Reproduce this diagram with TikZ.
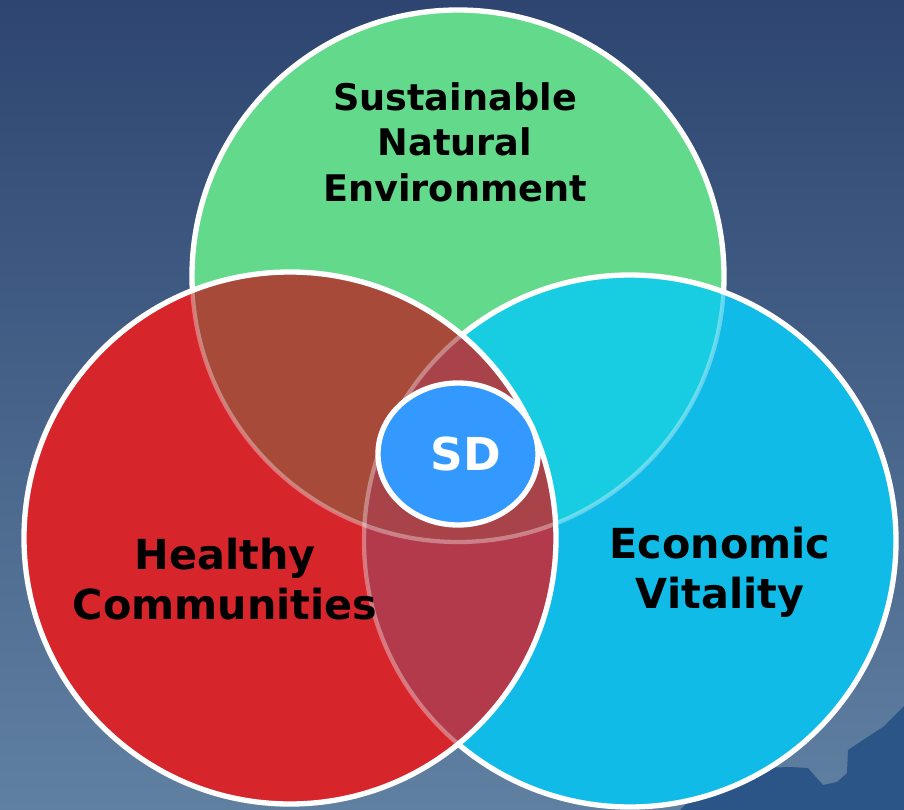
\documentclass[tikz,border=0pt]{standalone}
\usepackage{fontspec}
\setmainfont{DejaVu Sans}
\usetikzlibrary{shapes.geometric}
\definecolor{skytop}{HTML}{2D4570}
\definecolor{skybot}{HTML}{6080A2}
\definecolor{rock}{HTML}{2B5587}
\definecolor{envgreen}{HTML}{62D98B}
\definecolor{ecoblue}{HTML}{10BBE8}
\definecolor{heared}{HTML}{D6262C}
\definecolor{redgreen}{HTML}{A84A3A}
\definecolor{bluegreen}{HTML}{18CDE2}
\definecolor{redblue}{HTML}{B33A4B}
\definecolor{allthree}{HTML}{A8434A}
\definecolor{sdblue}{HTML}{3399FF}

\begin{document}
\begin{tikzpicture}[line cap=round,line join=round,x=0.75pt,y=-0.75pt,
  ring/.style={draw=white,line width=4pt},
  faint/.style={draw=white,draw opacity=0.35,line width=3.2pt},
  lbl/.style={text=black,align=center,font=\bfseries\fontsize{31}{37.5}\selectfont}]
\useasboundingbox (0,0) rectangle (904,810);
\shade[top color=skytop,bottom color=skybot] (0,0) rectangle (904,810);
% rocks in the corner
\fill[rock] (904,706) -- (883,727) -- (863,740) -- (848,750) -- (847,773) -- (837,782)
  -- (823,785) -- (815,776) -- (808,768) -- (790,767) -- (760,768) -- (700,790)
  -- (680,810) -- (904,810) -- cycle;

\coordinate (g) at (458,276);
\coordinate (r) at (290,538);
\coordinate (b) at (630,541);
\def\rr{199.5pt}

% green one
\fill[envgreen] (g) circle[radius=\rr];
\draw[ring] (g) circle[radius=\rr];
% blue one
\fill[ecoblue] (b) circle[radius=\rr];
\begin{scope}
  \clip (g) circle[radius=\rr];
  \fill[bluegreen] (b) circle[radius=\rr];
\end{scope}
\begin{scope}
  \clip (b) circle[radius=\rr];
  \draw[faint] (g) circle[radius=\rr];
\end{scope}
\draw[ring] (b) circle[radius=\rr];
% red one
\fill[heared] (r) circle[radius=\rr];
\begin{scope}
  \clip (r) circle[radius=\rr];
  \fill[redgreen] (g) circle[radius=\rr];
  \fill[redblue] (b) circle[radius=\rr];
  \clip (g) circle[radius=\rr];
  \fill[allthree] (b) circle[radius=\rr];
\end{scope}
\begin{scope}
  \clip (r) circle[radius=\rr];
  \draw[faint] (g) circle[radius=\rr];
  \draw[faint] (b) circle[radius=\rr];
\end{scope}
\draw[ring] (r) circle[radius=\rr];

\node[lbl,font=\bfseries\fontsize{27.5}{34}\selectfont] (nat) at (455,142) {Sustainable\\Natural\\Environment};
\node[lbl] (hea) at (225,579) {Healthy\\Communities};
\node[lbl] (eco) at (720,572) {Economic\\Vitality};
\node[ellipse,draw=white,line width=4pt,fill=sdblue,minimum width=120pt,minimum height=106.5pt,
  inner sep=0pt,text=white,font=\bfseries\fontsize{34}{40}\selectfont] (sd) at (458,454) {\hspace*{12pt}SD};
\end{tikzpicture}
\end{document}
